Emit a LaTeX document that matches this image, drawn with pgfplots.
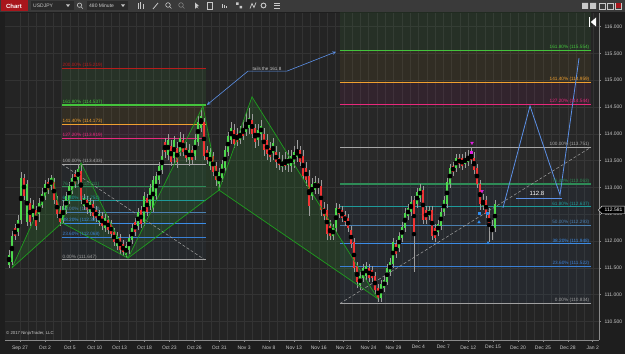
\documentclass[border=0pt]{standalone}
\usepackage{pgfplots}
\pgfplotsset{compat=1.18}
\usepackage{pgfplotstable}
\usepackage{fontspec}
\setmainfont{Liberation Sans}
\newcommand\fs[1]{\fontsize{#1}{#1}\selectfont}
\definecolor{winbg}{HTML}{1E1E1E}
\definecolor{chartbg}{HTML}{242424}
\definecolor{gridc}{HTML}{333333}
\definecolor{axisc}{HTML}{8A8A8A}
\definecolor{lblc}{HTML}{C8C8C8}
\definecolor{tb}{HTML}{3A3A3A}
\definecolor{tbbox}{HTML}{2A2A2A}
\definecolor{chartred}{HTML}{A8161C}
\definecolor{cgreen}{HTML}{4ED84E}
\definecolor{cred}{HTML}{F03434}
\definecolor{wickc}{HTML}{9C9C9C}
\definecolor{f200}{HTML}{B81C1C}
\definecolor{f1618}{HTML}{44C43C}
\definecolor{f1414}{HTML}{F0A030}
\definecolor{f1272}{HTML}{E8287C}
\definecolor{f100}{HTML}{A8A8A8}
\definecolor{f764}{HTML}{2E8B57}
\definecolor{f618}{HTML}{1E9A9A}
\definecolor{f50}{HTML}{4A7FB0}
\definecolor{f382}{HTML}{3C8CE6}
\definecolor{f236}{HTML}{3A80D6}
\definecolor{f0}{HTML}{A0A0A0}
\definecolor{bgreen}{HTML}{3C8C3C}
\definecolor{bbrown}{HTML}{8C6A2A}
\definecolor{bpurple}{HTML}{8A2A6A}
\definecolor{bgray}{HTML}{707070}
\definecolor{bblue}{HTML}{3A5A80}
\definecolor{patline}{HTML}{1E9E1E}
\definecolor{patfill}{HTML}{2E8A2E}
\definecolor{proj}{HTML}{5C90E6}
\definecolor{magm}{HTML}{E01EE0}
\definecolor{bluem}{HTML}{2E8CF0}

% x = position along the time axis, lo/hi = wick, blo/bhi = body (price)
\pgfplotstableread{
x lo hi blo bhi
9 111.50 111.83 111.55 111.74
12 111.55 112.19 111.61 112.09
18 112.09 112.48 112.17 112.39
21 112.32 113.29 112.39 113.18
27 112.28 113.14 112.35 113.06
33 112.37 112.76 112.45 112.67
39 112.35 112.80 112.50 112.71
42 112.62 112.99 112.67 112.88
45 112.76 113.14 112.84 113.06
51 112.95 113.23 113.03 113.18
63 112.32 112.76 112.39 112.65
66 112.50 112.91 112.58 112.84
69 112.69 113.10 112.76 113.03
72 112.88 113.25 112.95 113.18
78 113.06 113.44 113.14 113.34
84 112.58 112.88 112.65 112.80
90 112.47 112.80 112.54 112.73
99 112.28 112.58 112.35 112.50
105 112.17 112.50 112.24 112.43
117 111.83 112.17 111.91 112.09
126 111.68 111.98 111.74 111.91
129 111.76 112.13 111.83 112.06
132 111.94 112.32 112.02 112.24
138 112.21 112.62 112.28 112.54
144 112.28 112.91 112.35 112.84
150 112.58 113.06 112.65 112.99
153 112.54 113.21 112.62 113.14
156 112.76 113.29 112.84 113.21
159 113.06 113.47 113.14 113.40
162 113.25 113.70 113.32 113.59
168 113.51 114.00 113.60 113.88
174 113.44 113.96 113.55 113.88
180 113.59 114.03 113.66 113.92
189 113.40 113.81 113.51 113.70
195 113.51 114.00 113.59 113.88
198 113.77 114.33 113.85 114.22
201 114.03 114.48 114.11 114.33
210 113.32 113.73 113.40 113.66
219 112.95 113.36 113.06 113.29
222 113.10 113.51 113.18 113.44
225 113.29 113.77 113.36 113.70
228 113.59 114.03 113.66 113.96
231 113.81 114.22 113.88 114.11
240 113.81 114.15 113.88 114.03
246 113.96 114.41 114.03 114.22
249 114.00 114.48 114.11 114.30
258 113.77 114.18 113.88 114.07
261 113.88 114.26 114.00 114.15
273 113.51 113.92 113.64 113.83
282 113.29 113.60 113.38 113.49
288 113.29 113.70 113.42 113.55
291 113.29 113.70 113.40 113.59
294 113.36 113.77 113.47 113.66
297 113.47 113.88 113.57 113.70
312 112.76 113.18 112.84 113.06
315 112.88 113.21 112.95 113.10
333 112.02 112.32 112.09 112.24
336 112.17 112.71 112.24 112.62
360 111.09 111.42 111.17 111.35
363 111.24 111.57 111.31 111.50
366 111.27 111.61 111.35 111.53
381 110.86 111.27 110.94 111.20
384 111.05 111.35 111.13 111.27
387 111.17 111.57 111.24 111.50
390 111.35 111.68 111.42 111.61
393 111.50 112.06 111.57 111.98
399 111.79 112.17 111.87 112.09
402 111.98 112.35 112.06 112.26
405 112.17 112.62 112.24 112.52
408 112.39 112.69 112.47 112.62
411 112.47 112.84 112.54 112.73
417 112.62 112.99 112.69 112.91
420 112.73 113.06 112.80 112.99
429 112.39 112.65 112.47 112.58
438 112.09 112.39 112.17 112.32
441 112.21 112.62 112.28 112.54
444 112.47 112.84 112.54 112.76
447 112.62 113.18 112.69 113.10
450 112.99 113.44 113.06 113.36
456 113.29 113.62 113.36 113.55
465 113.36 113.66 113.44 113.55
468 113.40 113.70 113.47 113.59
483 112.58 112.88 112.65 112.76
492 112.02 112.39 112.21 112.28
495 112.17 112.76 112.24 112.69
}\greentab

\pgfplotstableread{
x lo hi blo bhi
15 112.02 112.32 112.09 112.24
24 112.76 113.25 112.84 113.18
30 112.28 112.80 112.35 112.71
36 112.21 112.65 112.28 112.58
48 112.88 113.18 112.95 113.10
54 112.69 113.18 112.76 113.10
57 112.43 112.84 112.50 112.76
60 112.28 112.65 112.35 112.58
75 112.99 113.32 113.06 113.25
81 112.69 113.42 112.76 113.31
87 112.50 112.84 112.58 112.76
93 112.39 112.76 112.47 112.69
96 112.35 112.65 112.43 112.58
102 112.21 112.54 112.28 112.47
108 112.13 112.47 112.21 112.39
111 112.06 112.39 112.13 112.32
114 111.91 112.24 111.98 112.17
120 111.76 112.13 111.83 112.06
123 111.72 112.02 111.79 111.94
135 112.09 112.43 112.17 112.35
141 112.24 112.65 112.32 112.58
147 112.47 112.88 112.54 112.80
165 113.55 113.92 113.66 113.85
171 113.40 113.88 113.47 113.77
177 113.36 113.85 113.47 113.73
183 113.59 114.00 113.66 113.88
186 113.47 113.85 113.55 113.73
192 113.44 113.77 113.51 113.70
204 113.51 114.30 113.59 114.22
207 113.44 113.77 113.51 113.70
213 113.21 113.66 113.29 113.59
216 113.03 113.47 113.14 113.40
234 113.73 114.18 113.81 114.07
237 113.77 114.11 113.85 114.00
243 113.88 114.26 113.96 114.11
252 113.92 114.37 114.00 114.26
255 113.73 114.18 113.85 114.11
264 113.59 114.11 113.70 114.00
267 113.51 114.00 113.62 113.88
270 113.47 113.85 113.57 113.73
276 113.36 113.77 113.47 113.66
279 113.32 113.66 113.42 113.55
285 113.32 113.66 113.40 113.51
300 113.40 113.77 113.47 113.70
303 113.14 113.70 113.21 113.59
306 113.03 113.47 113.14 113.36
309 112.47 113.32 112.65 113.21
318 112.88 113.18 112.99 113.08
321 112.47 113.14 112.58 113.03
324 112.39 112.73 112.47 112.62
327 112.02 112.69 112.13 112.58
330 112.02 112.39 112.09 112.28
339 112.43 112.69 112.50 112.62
342 112.35 112.65 112.43 112.58
345 112.28 112.56 112.35 112.48
348 112.17 112.50 112.24 112.43
351 111.87 112.28 111.94 112.21
354 111.42 112.06 111.50 111.98
357 111.13 111.61 111.24 111.53
369 111.24 111.57 111.31 111.50
372 111.24 111.53 111.31 111.46
375 111.01 111.42 111.09 111.35
378 110.86 111.20 110.94 111.13
396 111.68 112.02 111.76 111.94
414 111.42 112.84 112.17 112.76
423 112.32 113.03 112.39 112.95
426 112.32 112.65 112.39 112.58
432 112.02 112.65 112.09 112.58
435 111.98 112.32 112.06 112.24
453 113.21 113.47 113.29 113.40
459 113.36 113.62 113.44 113.55
462 113.32 113.62 113.40 113.55
471 113.44 113.75 113.51 113.62
474 113.25 113.66 113.32 113.55
477 112.99 113.44 113.06 113.36
480 112.58 113.14 112.69 113.06
486 112.43 112.84 112.50 112.76
489 111.98 112.62 112.28 112.50
}\redtab

\begin{document}
\begin{tikzpicture}[x=1pt,y=1pt]
\useasboundingbox (0,0) rectangle (625,354);
\fill[winbg] (0,0) rectangle (625,354);
% toolbar
\fill[tb] (0,342) rectangle (625,354);
\fill[chartred] (0.5,342.5) rectangle (28,353.5);
\node[text=white, font=\fs{6}\bfseries, inner sep=0pt] at (14,348) {Chart};
\fill[tbbox] (31,343.5) rectangle (74,352.5);
\node[anchor=west, text=lblc, font=\fs{5}, inner sep=0pt] at (33,348) {USDJPY};
\fill[lblc] (66,349.5) -- (70,349.5) -- (68,347) -- cycle;
\draw[lblc, line width=0.6pt] (79.5,348.8) circle (2.2) (81,347.2) -- (82.8,345.4);
\fill[tbbox] (87,343.5) rectangle (128,352.5);
\node[anchor=west, text=lblc, font=\fs{5}, inner sep=0pt] at (89,348) {480 Minute};
\fill[lblc] (121,349.5) -- (125,349.5) -- (123,347) -- cycle;
\draw[lblc, line width=0.8pt] (138,345) -- (138,351) (140.5,345) -- (140.5,352) (143,345) -- (143,350);
\draw[lblc, line width=0.8pt] (153,345) -- (158,351);
\draw[lblc, line width=0.6pt] (168,349) circle (2.3) (169.7,347.3) -- (171.5,345.5);
\draw[gray, line width=0.6pt] (181,349) circle (2.3) (182.7,347.3) -- (184.5,345.5);
\fill[lblc] (195,351.5) -- (195,345) -- (196.5,346.5) -- (198.5,345.5) -- (196.8,347.3) -- (199,348) -- cycle;
\draw[lblc, line width=0.6pt] (207,345) rectangle (212,351.5);
\draw[lblc, line width=0.7pt] (222,346) -- (222,350) (224,346) -- (224,349) (226,346) -- (226,348);
\fill[lblc] (236,349) rectangle (238.5,351.5) (239.5,345.5) rectangle (242,348);
\draw[lblc, line width=0.7pt] (250,345.5) -- (252,350.5) -- (254,346.5) -- (256,351.5);
\draw[lblc, line width=0.9pt] (263.5,348.5) circle (2.4);
\draw[lblc, line width=0.7pt] (274,346) -- (280,346) (274,348.5) -- (280,348.5) (274,351) -- (280,351);
\fill[lblc] (582,345) rectangle (588,351) (590,345) rectangle (596,351);
\draw[lblc, line width=0.5pt] (599,345) rectangle (605,351) (607,345) rectangle (613,351) (615,345) rectangle (621,351);
\fill[chartred] (615.5,345.5) rectangle (620.5,350.5);

\begin{axis}[
  at={(5pt,14pt)}, anchor=south west, scale only axis,
  width=594pt, height=327pt,
  xmin=5, xmax=599, ymin=110.153, ymax=116.254,
  axis background/.style={fill=chartbg},
  axis x line*=bottom, axis y line*=right,
  axis line style={draw=axisc, line width=0.6pt},
  xtick={20,44.9,69.8,94.7,119.6,144.5,169.4,194.3,219.2,244.1,269,293.9,318.8,343.7,368.6,393.5,418.4,443.3,468.2,493.1,518,542.9,567.8,592.7},
  xticklabels={Sep 27,Oct 2,Oct 5,Oct 10,Oct 13,Oct 18,Oct 23,Oct 26,Oct 31,Nov 3,Nov 8,Nov 13,Nov 16,Nov 21,Nov 24,Nov 29,Dec 4,Dec 7,Dec 12,Dec 15,Dec 20,Dec 25,Dec 28,Jan 2},
  minor x tick num=2,
  ytick={110.5,111,111.5,112,112.5,113,113.5,114,114.5,115,115.5,116},
  xmajorgrids, xminorgrids, ymajorgrids,
  major grid style={draw=gridc, line width=0.4pt},
  minor grid style={draw=gridc, line width=0.4pt},
  tick style={draw=axisc, line width=0.5pt},
  tick align=outside, major tick length=2pt, minor tick length=0pt,
  tick label style={font=\fs{5}, text=lblc},
  /pgf/number format/assume math mode=true,
  y tick label style={/pgf/number format/.cd, fixed, fixed zerofill, precision=3, 1000 sep={}},
]
% ---- left Fibonacci bands (x 62 to 206)
\addplot[draw=none, fill=bgreen, fill opacity=0.14] coordinates {(62,114.537) (206,114.537) (206,115.219) (62,115.219)} -- cycle;
\addplot[draw=none, fill=bbrown, fill opacity=0.15] coordinates {(62,114.173) (206,114.173) (206,114.537) (62,114.537)} -- cycle;
\addplot[draw=none, fill=bpurple, fill opacity=0.15] coordinates {(62,113.919) (206,113.919) (206,114.173) (62,114.173)} -- cycle;
\addplot[draw=none, fill=bgray, fill opacity=0.10] coordinates {(62,113.433) (206,113.433) (206,113.919) (62,113.919)} -- cycle;
\addplot[draw=none, fill=bblue, fill opacity=0.08] coordinates {(62,111.647) (206,111.647) (206,113.433) (62,113.433)} -- cycle;
% ---- right Fibonacci bands (x 340 to 591)
\addplot[draw=none, fill=bgreen, fill opacity=0.12] coordinates {(340,115.554) (591,115.554) (591,116.668) (340,116.668)} -- cycle;
\addplot[draw=none, fill=bbrown, fill opacity=0.13] coordinates {(340,114.959) (591,114.959) (591,115.554) (340,115.554)} -- cycle;
\addplot[draw=none, fill=bpurple, fill opacity=0.14] coordinates {(340,114.544) (591,114.544) (591,114.959) (340,114.959)} -- cycle;
\addplot[draw=none, fill=bgray, fill opacity=0.05] coordinates {(340,113.751) (591,113.751) (591,114.544) (340,114.544)} -- cycle;
\addplot[draw=none, fill=bgray, fill opacity=0.08] coordinates {(340,113.063) (591,113.063) (591,113.751) (340,113.751)} -- cycle;
\addplot[draw=none, fill=bblue, fill opacity=0.11] coordinates {(340,110.834) (591,110.834) (591,113.063) (340,113.063)} -- cycle;
% ---- harmonic pattern fills
\addplot[draw=none, fill=patfill, fill opacity=0.22] coordinates {(12,111.50) (53,113.18) (62,112.34)} -- cycle;
\addplot[draw=none, fill=patfill, fill opacity=0.22] coordinates {(62,112.34) (81,113.46) (128,111.68)} -- cycle;
\addplot[draw=none, fill=patfill, fill opacity=0.2] coordinates {(128,111.68) (203,114.52) (219,112.95)} -- cycle;
\addplot[draw=none, fill=patfill, fill opacity=0.2] coordinates {(219,112.95) (252,114.69) (378,110.92)} -- cycle;
% ---- left Fibonacci lines
\addplot[f200, line width=1.1pt] coordinates {(62,115.219) (206,115.219)};
\addplot[f1618, line width=1.1pt] coordinates {(62,114.537) (206,114.537)};
\addplot[f1414, line width=1.1pt] coordinates {(62,114.173) (206,114.173)};
\addplot[f1272, line width=1.1pt] coordinates {(62,113.919) (206,113.919)};
\addplot[f100, line width=1.1pt] coordinates {(62,113.433) (206,113.433)};
\addplot[f764, line width=1.1pt] coordinates {(62,113.011) (206,113.011)};
\addplot[f618, line width=1.1pt] coordinates {(62,112.751) (206,112.751)};
\addplot[f50, line width=1.1pt] coordinates {(62,112.540) (206,112.540)};
\addplot[f382, line width=1.1pt] coordinates {(62,112.329) (206,112.329)};
\addplot[f236, line width=1.1pt] coordinates {(62,112.068) (206,112.068)};
\addplot[f0, line width=1.1pt] coordinates {(62,111.647) (206,111.647)};
% ---- right Fibonacci lines
\addplot[f1618, line width=1.1pt] coordinates {(340,115.554) (591,115.554)};
\addplot[f1414, line width=1.1pt] coordinates {(340,114.959) (591,114.959)};
\addplot[f1272, line width=1.1pt] coordinates {(340,114.544) (591,114.544)};
\addplot[f100, line width=1.1pt] coordinates {(340,113.751) (591,113.751)};
\addplot[f764, line width=1.1pt] coordinates {(340,113.063) (591,113.063)};
\addplot[f618, line width=1.1pt] coordinates {(340,112.637) (591,112.637)};
\addplot[f50, line width=1.1pt] coordinates {(340,112.293) (591,112.293)};
\addplot[f382, line width=1.1pt] coordinates {(340,111.948) (591,111.948)};
\addplot[f236, line width=1.1pt] coordinates {(340,111.522) (591,111.522)};
\addplot[f0, line width=1.1pt] coordinates {(340,110.834) (591,110.834)};
% ---- fib anchor lines
\addplot[f0, line width=0.5pt, densely dashed] coordinates {(62,113.433) (205,111.647)};
\addplot[f0, line width=0.5pt, densely dashed] coordinates {(340,110.834) (591,113.751)};
% ---- candles: wicks
\addplot[only marks, mark=none, error bars/.cd, y dir=both, y explicit, error mark=none,
  error bar style={draw=wickc, line width=0.5pt}]
  table[x=x, y expr={(\thisrow{hi}+\thisrow{lo})/2}, y error expr={(\thisrow{hi}-\thisrow{lo})/2}] {\greentab};
\addplot[only marks, mark=none, error bars/.cd, y dir=both, y explicit, error mark=none,
  error bar style={draw=wickc, line width=0.5pt}]
  table[x=x, y expr={(\thisrow{hi}+\thisrow{lo})/2}, y error expr={(\thisrow{hi}-\thisrow{lo})/2}] {\redtab};
% ---- candles: bodies
\addplot[only marks, mark=none, error bars/.cd, y dir=both, y explicit, error mark=none,
  error bar style={draw=cgreen, line width=1.8pt}]
  table[x=x, y expr={(\thisrow{bhi}+\thisrow{blo})/2}, y error expr={(\thisrow{bhi}-\thisrow{blo})/2}] {\greentab};
\addplot[only marks, mark=none, error bars/.cd, y dir=both, y explicit, error mark=none,
  error bar style={draw=cred, line width=1.8pt}]
  table[x=x, y expr={(\thisrow{bhi}+\thisrow{blo})/2}, y error expr={(\thisrow{bhi}-\thisrow{blo})/2}] {\redtab};
% ---- harmonic pattern lines
\addplot[patline, line width=0.7pt] coordinates {(12,111.50) (53,113.18) (62,112.34) (81,113.46) (128,111.68)};
\addplot[patline, line width=0.7pt] coordinates {(12,111.50) (62,112.34) (128,111.68)};
\addplot[patline, line width=0.7pt] coordinates {(128,111.68) (203,114.52) (219,112.95) (252,114.69) (378,110.92)};
\addplot[patline, line width=0.7pt] coordinates {(128,111.68) (219,112.95) (378,110.92)};
% ---- projection and annotations
\addplot[proj, line width=0.8pt] coordinates {(503,112.62) (530,114.52) (560,112.86) (579,115.41)};
\addplot[proj, line width=0.8pt] coordinates {(516,112.80) (562,112.80)};
\addplot[proj, line width=0.6pt, stealth-stealth] coordinates {(207,114.54) (248,115.17) (287,115.17) (336,115.53)};
% ---- markers
\addplot[only marks, mark=triangle*, mark size=1.6pt, mark options={rotate=180, fill=magm, draw=magm}] coordinates {(472,113.83) (482,112.93)};
\addplot[only marks, mark=square*, mark size=0.8pt, mark options={fill=magm, draw=magm}] coordinates {(471,113.66)};
\addplot[only marks, mark=triangle*, mark size=1.6pt, mark options={fill=bluem, draw=bluem}] coordinates {(479,112.35) (488,111.96)};
\addplot[only marks, mark=square*, mark size=0.8pt, mark options={fill=bluem, draw=bluem}] coordinates {(479,112.52) (487,112.52)};
% ---- labels
\node[anchor=south, text=lblc, font=\fs{4.6}, inner sep=0.8pt] at (axis cs:267,115.17) {tails the 161.8};
\node[anchor=south, text=white, font=\fs{6}, inner sep=0.8pt] at (axis cs:537,112.82) {112.8};
\begin{scope}[every node/.style={anchor=south west, inner sep=0.5pt, font=\fs{4.7}}]
\node[text=f200] at (axis cs:62,115.219) {200.00\% (115.219)};
\node[text=f1618] at (axis cs:62,114.537) {161.80\% (114.537)};
\node[text=f1414] at (axis cs:62,114.173) {141.40\% (114.173)};
\node[text=f1272] at (axis cs:62,113.919) {127.20\% (113.919)};
\node[text=f100] at (axis cs:62,113.433) {100.00\% (113.433)};
\node[text=f764] at (axis cs:62,113.011) {76.40\% (113.011)};
\node[text=f618] at (axis cs:62,112.751) {61.80\% (112.751)};
\node[text=f50] at (axis cs:62,112.540) {50.00\% (112.540)};
\node[text=f382] at (axis cs:62,112.329) {38.20\% (112.329)};
\node[text=f236] at (axis cs:62,112.068) {23.60\% (112.068)};
\node[text=f0] at (axis cs:62,111.647) {0.00\% (111.647)};
\end{scope}
\begin{scope}[every node/.style={anchor=south east, inner sep=0.5pt, font=\fs{4.7}}]
\node[text=f1618] at (axis cs:590,115.554) {161.80\% (115.554)};
\node[text=f1414] at (axis cs:590,114.959) {141.40\% (114.959)};
\node[text=f1272] at (axis cs:590,114.544) {127.20\% (114.544)};
\node[text=f100] at (axis cs:590,113.751) {100.00\% (113.751)};
\node[text=f764] at (axis cs:590,113.063) {76.40\% (113.063)};
\node[text=f618] at (axis cs:590,112.637) {61.80\% (112.637)};
\node[text=f50] at (axis cs:590,112.293) {50.00\% (112.293)};
\node[text=f382] at (axis cs:590,111.948) {38.20\% (111.948)};
\node[text=f236] at (axis cs:590,111.522) {23.60\% (111.522)};
\node[text=f0] at (axis cs:590,110.834) {0.00\% (110.834)};
\end{scope}
\end{axis}
% current price box
\filldraw[fill=black, draw=white, line width=0.4pt] (598.5,144) -- (602,147.8) -- (624.5,147.8) -- (624.5,140.2) -- (602,140.2) -- cycle;
\node[text=white, font=\fs{5}, inner sep=0pt] at (613.5,144) {112.581};
% chart-trader icon
\fill[white] (588.5,327) rectangle (590,337);
\fill[white] (590.8,332) -- (596,336.5) -- (596,327.5) -- cycle;
% copyright
\node[anchor=west, text=lblc, font=\fs{4.3}, inner sep=0pt] at (6,21) {\textcopyright{} 2017 NinjaTrader, LLC};
\end{tikzpicture}
\end{document}
